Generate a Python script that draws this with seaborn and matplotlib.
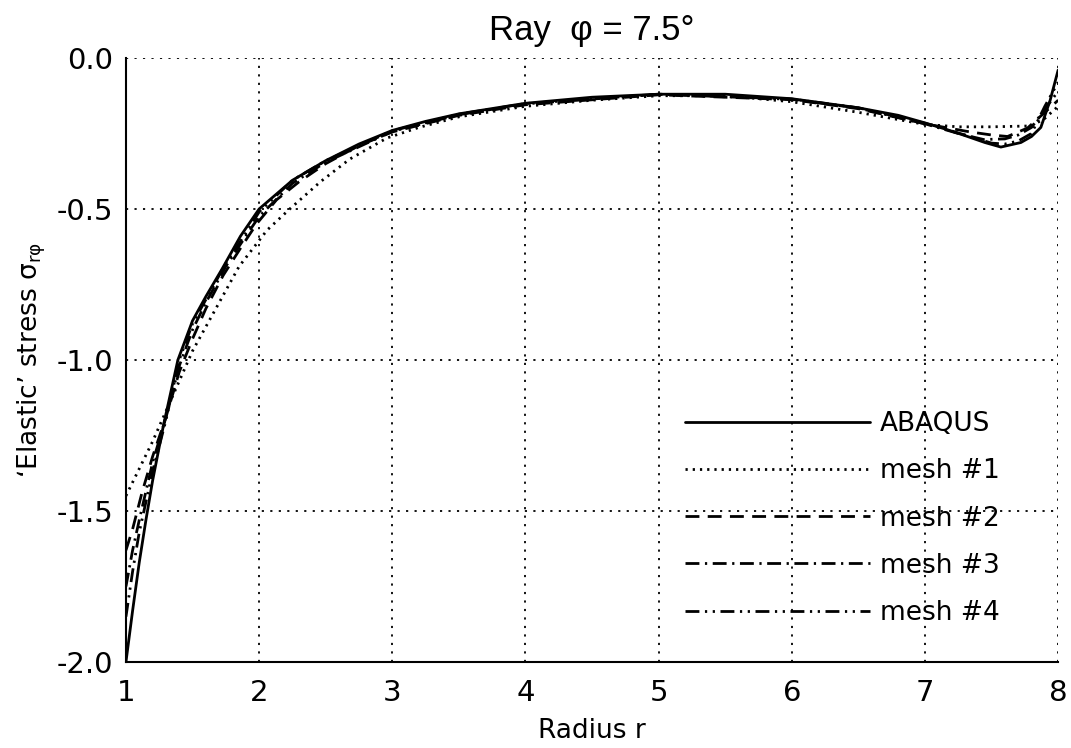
"""Ray phi = 7.5 deg: 'elastic' stress sigma_r-phi along the radius, ABAQUS vs meshes."""

import matplotlib
matplotlib.use("Agg")
import matplotlib.pyplot as plt
from matplotlib.ticker import MultipleLocator
import seaborn as sns

# ---------------------------------------------------------------------------
# Datos
# ---------------------------------------------------------------------------
r_abaqus = [1.0, 1.05, 1.1, 1.15, 1.2, 1.28, 1.39, 1.5, 1.6, 1.72, 1.86, 2.0,
            2.25, 2.5, 2.75, 3.0, 3.25, 3.5, 4.0, 4.5, 5.0, 5.5, 6.0, 6.5,
            6.8, 7.0, 7.15, 7.3, 7.45, 7.57, 7.72, 7.8, 7.87, 7.94, 8.0]
s_abaqus = [-2.0, -1.83, -1.67, -1.53, -1.40, -1.22, -1.0, -0.87, -0.79, -0.70,
            -0.59, -0.50, -0.405, -0.34, -0.285, -0.24, -0.21, -0.185, -0.15,
            -0.13, -0.12, -0.12, -0.135, -0.165, -0.19, -0.215, -0.235, -0.257,
            -0.28, -0.295, -0.28, -0.26, -0.23, -0.14, -0.04]

r_mesh1 = [1.0, 1.1, 1.2, 1.3, 1.4, 1.5, 1.6, 1.7, 1.85, 2.06, 2.23, 2.46, 2.68,
           2.96, 3.2, 3.5, 4.0, 4.5, 5.0, 5.5, 6.0, 6.5, 7.0, 7.25, 7.5, 7.8,
           7.9, 8.0]
s_mesh1 = [-1.45, -1.36, -1.27, -1.17, -1.07, -0.97, -0.89, -0.81, -0.69, -0.57,
           -0.50, -0.41, -0.335, -0.265, -0.23, -0.195, -0.16, -0.14, -0.125,
           -0.125, -0.145, -0.18, -0.22, -0.228, -0.228, -0.225, -0.2, -0.16]

r_mesh2 = [1.0, 1.05, 1.12, 1.2, 1.3, 1.4, 1.5, 1.6, 1.73, 1.86, 1.98, 2.13, 2.3,
           2.5, 2.75, 3.0, 3.5, 4.0, 5.0, 6.0, 6.5, 7.0, 7.34, 7.5, 7.62, 7.77,
           7.9, 8.0]
s_mesh2 = [-1.63, -1.56, -1.44, -1.32, -1.19, -1.04, -0.93, -0.83, -0.72, -0.63,
           -0.55, -0.47, -0.41, -0.35, -0.29, -0.245, -0.19, -0.155, -0.122,
           -0.138, -0.168, -0.218, -0.245, -0.255, -0.26, -0.232, -0.18, -0.14]

r_mesh3 = [1.0, 1.05, 1.1, 1.2, 1.3, 1.4, 1.5, 1.6, 1.75, 1.9, 2.0, 2.25, 2.5,
           3.0, 3.5, 4.0, 5.0, 6.0, 6.5, 7.0, 7.25, 7.44, 7.6, 7.7, 7.8, 7.9, 8.0]
s_mesh3 = [-1.75, -1.63, -1.53, -1.34, -1.19, -1.02, -0.90, -0.81, -0.69, -0.59,
           -0.525, -0.415, -0.345, -0.243, -0.188, -0.152, -0.12, -0.137, -0.166,
           -0.218, -0.25, -0.27, -0.268, -0.255, -0.23, -0.17, -0.11]

r_mesh4 = [1.0, 1.05, 1.1, 1.2, 1.3, 1.4, 1.5, 1.6, 1.75, 1.9, 2.0, 2.25, 2.5,
           3.0, 3.5, 4.0, 5.0, 6.0, 6.5, 7.0, 7.3, 7.5, 7.6, 7.7, 7.8, 7.9, 8.0]
s_mesh4 = [-1.85, -1.70, -1.57, -1.37, -1.20, -1.0, -0.88, -0.80, -0.68, -0.58,
           -0.51, -0.405, -0.34, -0.241, -0.186, -0.151, -0.12, -0.136, -0.165,
           -0.216, -0.255, -0.282, -0.285, -0.275, -0.25, -0.16, -0.08]

etiquetas = ["ABAQUS", "mesh #1", "mesh #2", "mesh #3", "mesh #4"]
x_ticks = [1, 2, 3, 4, 5, 6, 7, 8]
y_ticks = [-2.0, -1.5, -1.0, -0.5, 0.0]

# ---------------------------------------------------------------------------
# Estilo
# ---------------------------------------------------------------------------
sns.set_style("white")
plt.rcParams.update({
    "font.family": ["DejaVu Sans"],
    "mathtext.fontset": "dejavusans",
    "text.color": "black",
    "axes.labelcolor": "black",
    "xtick.color": "black",
    "ytick.color": "black",
})

estilos = [
    "-",
    (0, (0.8, 1.8)),
    (0, (5, 3)),
    (0, (5, 2, 0.8, 2)),
    (0, (5, 2, 0.8, 2, 0.8, 2)),
]
series = [(r_abaqus, s_abaqus), (r_mesh1, s_mesh1), (r_mesh2, s_mesh2),
          (r_mesh3, s_mesh3), (r_mesh4, s_mesh4)]

fig = plt.figure(figsize=(10.71, 7.48), dpi=100)
ax = fig.add_axes([0.1176, 0.115, 0.8704, 0.8075])

for (r, s), etiqueta, ls in zip(series, etiquetas, estilos):
    sns.lineplot(x=r, y=s, ax=ax, color="black", linestyle=ls, linewidth=2.0,
                 label=etiqueta, sort=False)

ax.set_xlim(1, 8)
ax.set_ylim(-2.0, 0.0)
ax.set_xticks(x_ticks)
ax.set_yticks(y_ticks)
ax.set_yticklabels([f"{v:.1f}" for v in y_ticks])
ax.xaxis.set_minor_locator(MultipleLocator(0.25))
ax.yaxis.set_minor_locator(MultipleLocator(0.1))
ax.tick_params(axis="both", which="major", length=0, labelsize=21,
               colors="black")
ax.tick_params(axis="y", which="major", pad=9)
ax.tick_params(axis="x", which="major", pad=12)
ax.tick_params(axis="x", which="minor", direction="in", length=7, width=1.2,
               color="black")
ax.tick_params(axis="y", which="minor", direction="in", length=10, width=1.2,
               color="black")
ax.grid(True, which="major", color="black", linestyle=(0, (1.2, 3.5)),
        linewidth=1.3)

for lado in ["top", "right"]:
    ax.spines[lado].set_visible(False)
for lado in ["left", "bottom"]:
    ax.spines[lado].set_color("black")
    ax.spines[lado].set_linewidth(1.5)

ax.set_title("Ray  \u03c6 = 7.5\u00b0", fontsize=25, pad=13, color="black",
             family=["Liberation Sans", "DejaVu Sans"])
ax.set_xlabel("Radius r", fontsize=19, labelpad=8)
ax.set_ylabel("\u2018Elastic\u2019 stress $\\mathregular{\\sigma_{r\\varphi}}$",
              fontsize=19, labelpad=6)

leyenda = ax.legend(loc="upper left", bbox_to_anchor=(0.5998, 0.415),
                    frameon=False, fontsize=19, handlelength=7.0,
                    handletextpad=0.38, labelspacing=0.8, borderpad=0,
                    borderaxespad=0)
for texto in leyenda.get_texts():
    texto.set_color("black")

fig.savefig("out.png", dpi=100)
